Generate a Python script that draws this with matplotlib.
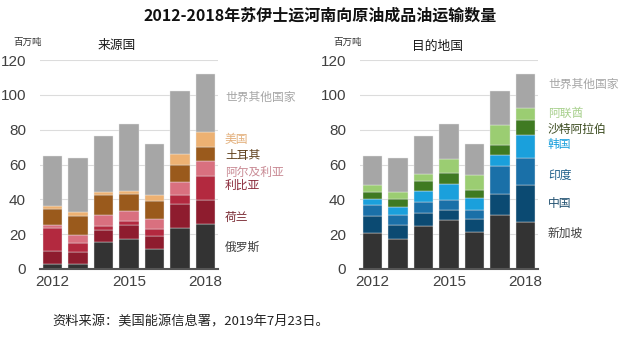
import matplotlib
matplotlib.use("Agg")
import matplotlib.pyplot as plt
import numpy as np

plt.rcParams['font.family'] = ['Noto Sans CJK SC', 'DejaVu Sans']

years = [2012, 2013, 2014, 2015, 2016, 2017, 2018]

# Origin countries (million tonnes), bottom to top
origin_names = ["俄罗斯", "荷兰", "利比亚", "阿尔及利亚", "土耳其", "美国", "世界其他国家"]
russia = [3.0, 3.0, 15.3, 17.2, 11.5, 23.3, 26.0]
netherlands = [7.1, 6.6, 7.3, 8.2, 7.6, 14.0, 13.8]
libya = [13.2, 5.4, 1.9, 2.3, 3.8, 5.1, 13.7]
algeria = [1.9, 4.7, 6.7, 5.8, 5.8, 7.3, 8.6]
turkey = [9.4, 10.5, 11.1, 9.5, 10.1, 10.1, 7.7]
usa = [1.7, 2.3, 1.7, 1.6, 3.8, 6.2, 8.6]
origin_rest = [28.7, 31.2, 32.1, 38.8, 29.3, 36.3, 33.6]
origin_series = [russia, netherlands, libya, algeria, turkey, usa, origin_rest]
origin_colors = ["#333333", "#8E1C2E", "#B3293F", "#D9707F", "#9A5A1C", "#EDB172", "#A6A6A6"]
origin_label_colors = ["#404040", "#7A2A33", "#8B2A3A", "#C98A94", "#5E3F1A", "#E3B07C", "#A6A6A6"]
origin_label_y = [247, 217, 185, 172, 156, 140, 97]

# Destination countries (million tonnes), bottom to top
dest_names = ["新加坡", "中国", "印度", "韩国", "沙特阿拉伯", "阿联酋", "世界其他国家"]
singapore = [20.6, 17.2, 24.9, 27.9, 21.0, 31.0, 26.8]
china = [9.6, 8.2, 7.2, 6.1, 7.9, 12.2, 21.2]
india = [6.7, 5.6, 6.1, 5.4, 5.1, 15.7, 15.7]
korea = [3.3, 4.4, 6.4, 9.6, 6.7, 6.5, 13.2]
saudi = [3.8, 4.8, 6.1, 6.1, 4.8, 5.9, 8.8]
uae = [4.0, 4.0, 4.0, 8.0, 8.6, 11.3, 6.8]
dest_rest = [17.0, 19.5, 21.4, 20.3, 17.8, 19.7, 19.5]
dest_series = [singapore, china, india, korea, saudi, uae, dest_rest]
dest_colors = ["#333333", "#0B4A72", "#1A70A8", "#1AA0DC", "#3F7A22", "#9BCD72", "#A6A6A6"]
dest_label_colors = ["#404040", "#1F4F6F", "#1F5F8A", "#1AA0DD", "#3A4A1E", "#A8D08D", "#A6A6A6"]
dest_label_y = [233, 204, 175, 144, 129, 113, 84]

xtick_years = [2012, 2015, 2018]

W, H = 640, 337
fig = plt.figure(figsize=(W / 100, H / 100), dpi=100)
fig.patch.set_facecolor("white")

num_font = ['Liberation Sans', 'DejaVu Sans']


def panel(left_px, series, colors, names, label_colors, label_y, subtitle, label_x_px):
    ax = fig.add_axes([left_px / W, 1 - 269 / H, 178 / W, (269 - 60) / H])
    bottom = np.zeros(len(years))
    for vals, c in zip(series, colors):
        ax.bar(years, vals, bottom=bottom, width=0.75, color=c,
               edgecolor="#e8e8e8", linewidth=0.3, zorder=3)
        bottom += np.array(vals)
    ax.set_xlim(2012 - 0.49, 2018 + 0.49)
    ax.set_ylim(0, 120)
    ax.set_yticks(range(0, 121, 20))
    ax.set_xticks(xtick_years)
    ax.set_xticklabels([str(y) for y in xtick_years], family=num_font, fontsize=11, color="#404040")
    ax.set_yticklabels([str(v) for v in range(0, 121, 20)], family=num_font, fontsize=11, color="#404040")
    ax.grid(axis="y", color="#DCDCDC", linewidth=0.8, zorder=0)
    for s in ["top", "right", "left"]:
        ax.spines[s].set_visible(False)
    ax.spines["bottom"].set_color("#555555")
    ax.spines["bottom"].set_linewidth(1.5)
    ax.spines["bottom"].set_zorder(4)
    ax.tick_params(axis="both", length=0, pad=4)
    ax.tick_params(axis="y", pad=10)
    for name, c, y in zip(names, label_colors, label_y):
        fig.text(label_x_px / W, 1 - y / H, name, color=c, fontsize=8.5,
                 ha="left", va="center")
    fig.text((left_px + 77) / W, 1 - 46 / H, subtitle, fontsize=9.2, ha="center",
             va="center", color="#1a1a1a", fontweight="medium")
    fig.text((left_px - 27) / W, 1 - 42 / H, "百万吨", fontsize=6.8, ha="left",
             va="center", color="#333333")
    return ax


panel(40, origin_series, origin_colors, origin_names, origin_label_colors,
      origin_label_y, "来源国", 225)
panel(360, dest_series, dest_colors, dest_names, dest_label_colors,
      dest_label_y, "目的地国", 548)

fig.text(320 / W, 1 - 16 / H, "2012-2018年苏伊士运河南向原油成品油运输数量",
         fontsize=11.5, fontweight="bold", ha="center", va="center", color="#111111")
fig.text(52 / W, 1 - 322 / H, "资料来源：美国能源信息署，2019年7月23日。",
         fontsize=9.5, ha="left", va="center", color="#222222")

fig.savefig("out.png", dpi=100, facecolor="white")
